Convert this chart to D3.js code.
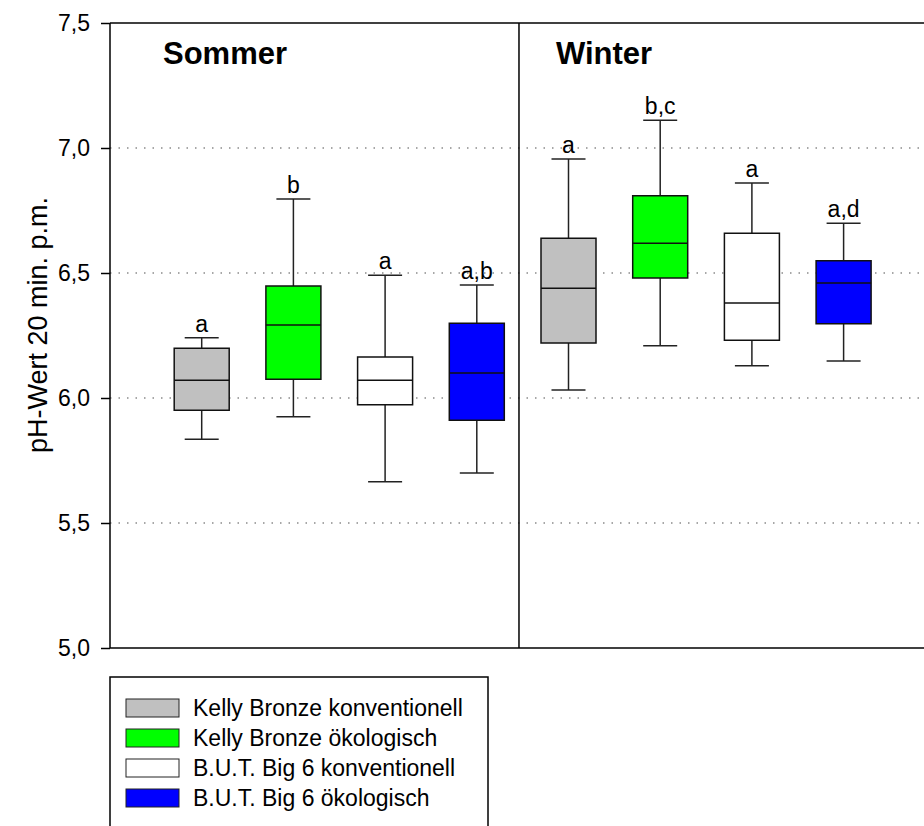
<!DOCTYPE html>
<html>
<head>
<meta charset="utf-8">
<script src="https://cdn.jsdelivr.net/npm/d3@7"></script>
<style>
  html, body { margin: 0; padding: 0; background: #fff; }
  svg { display: block; font-family: "Liberation Sans", Arial, sans-serif; }
</style>
</head>
<body>
<svg id="chart" width="924" height="826"></svg>
<script>
// Groups (legend entries) and seasons
const groups = ["Kelly Bronze konventionell", "Kelly Bronze ökologisch", "B.U.T. Big 6 konventionell", "B.U.T. Big 6 ökologisch"];
const groupColors = ["#c0c0c0", "#00ff00", "#ffffff", "#0000ff"];
const seasons = ["Sommer", "Winter"];

// Box statistics, Sommer (4 groups) then Winter (4 groups)
const whiskerLow  = [5.835, 5.925, 5.665, 5.70,  6.032, 6.209, 6.129, 6.148];
const q1          = [5.951, 6.075, 5.973, 5.911, 6.220, 6.480, 6.231, 6.297];
const median      = [6.071, 6.292, 6.071, 6.100, 6.439, 6.619, 6.380, 6.460];
const q3          = [6.199, 6.448, 6.164, 6.299, 6.639, 6.809, 6.659, 6.549];
const whiskerHigh = [6.241, 6.796, 6.491, 6.452, 6.956, 7.111, 6.860, 6.699];
const letters     = ["a", "b", "a", "a,b", "a", "b,c", "a", "a,d"];

// Y axis ticks
const yTicks = [5.0, 5.5, 6.0, 6.5, 7.0, 7.5];
const yTickLabels = ["5,0", "5,5", "6,0", "6,5", "7,0", "7,5"];
const gridValues = [5.5, 6.0, 6.5, 7.0];

const svg = d3.select("#chart");
const plotLeft = 110, plotTop = 23, plotBottom = 648, plotRight = 924;

const y = d3.scaleLinear().domain([5.0, 7.5]).range([plotBottom, plotTop]);
// positions 1..8 hold the boxes, divider sits between Sommer and Winter
const x = d3.scaleLinear().domain([0, 9]).range([plotLeft, plotLeft + 9 * 91.7]);
const dividerPos = 4.46;
const boxW = 55, capW = 34;

// dotted grid lines
svg.append("g").selectAll("line").data(gridValues).join("line")
  .attr("x1", plotLeft).attr("x2", plotRight)
  .attr("y1", d => y(d)).attr("y2", d => y(d))
  .attr("stroke", "#8a8a8a").attr("stroke-width", 1.3)
  .attr("stroke-dasharray", "1.5,7");

// frame: top and bottom edges, divider
const frame = svg.append("g").attr("stroke", "#000").attr("stroke-width", 1.5);
frame.append("line").attr("x1", plotLeft).attr("x2", plotRight).attr("y1", plotTop).attr("y2", plotTop);
frame.append("line").attr("x1", plotLeft).attr("x2", plotRight).attr("y1", plotBottom).attr("y2", plotBottom);
frame.append("line").attr("x1", x(dividerPos)).attr("x2", x(dividerPos)).attr("y1", plotTop).attr("y2", plotBottom);

// y axis
const yAxis = d3.axisLeft(y).tickValues(yTicks)
  .tickFormat((d, i) => yTickLabels[i]).tickSize(9).tickPadding(11);
const ya = svg.append("g").attr("transform", `translate(${plotLeft},0)`).call(yAxis);
ya.select(".domain").attr("stroke", "#000").attr("stroke-width", 1.5)
  .attr("d", `M0,${plotTop}V${plotBottom}`);
ya.selectAll(".tick line").attr("stroke", "#000").attr("stroke-width", 1.5);
ya.selectAll(".tick text").attr("font-size", 23).attr("fill", "#000")
  .attr("font-family", "'Liberation Sans', Arial, sans-serif");

// y axis title
svg.append("text")
  .attr("transform", `translate(38,325) rotate(-90)`)
  .attr("text-anchor", "middle").attr("dominant-baseline", "central")
  .attr("font-size", 27).text("pH-Wert 20 min. p.m.");

// season titles
svg.append("g").selectAll("text").data(seasons).join("text")
  .attr("x", (d, i) => i === 0 ? 163 : 556).attr("y", 64)
  .attr("font-size", 31).attr("font-weight", "bold").text(d => d);

// boxes
const idx = d3.range(whiskerLow.length);
const g = svg.append("g").selectAll("g").data(idx).join("g");

// whisker stems
g.append("line")
  .attr("x1", i => x(i + 1)).attr("x2", i => x(i + 1))
  .attr("y1", i => y(whiskerHigh[i])).attr("y2", i => y(q3[i]))
  .attr("stroke", "#222").attr("stroke-width", 1.5);
g.append("line")
  .attr("x1", i => x(i + 1)).attr("x2", i => x(i + 1))
  .attr("y1", i => y(q1[i])).attr("y2", i => y(whiskerLow[i]))
  .attr("stroke", "#222").attr("stroke-width", 1.5);
// whisker caps
g.append("line")
  .attr("x1", i => x(i + 1) - capW / 2).attr("x2", i => x(i + 1) + capW / 2)
  .attr("y1", i => y(whiskerHigh[i])).attr("y2", i => y(whiskerHigh[i]))
  .attr("stroke", "#222").attr("stroke-width", 1.5);
g.append("line")
  .attr("x1", i => x(i + 1) - capW / 2).attr("x2", i => x(i + 1) + capW / 2)
  .attr("y1", i => y(whiskerLow[i])).attr("y2", i => y(whiskerLow[i]))
  .attr("stroke", "#222").attr("stroke-width", 1.5);
// box
g.append("rect")
  .attr("x", i => x(i + 1) - boxW / 2).attr("width", boxW)
  .attr("y", i => y(q3[i])).attr("height", i => y(q1[i]) - y(q3[i]))
  .attr("fill", i => groupColors[i % 4])
  .attr("stroke", "#111").attr("stroke-width", 1.5);
// median
g.append("line")
  .attr("x1", i => x(i + 1) - boxW / 2).attr("x2", i => x(i + 1) + boxW / 2)
  .attr("y1", i => y(median[i])).attr("y2", i => y(median[i]))
  .attr("stroke", "#111").attr("stroke-width", 1.5);
// significance letters
g.append("text")
  .attr("x", i => x(i + 1)).attr("y", i => y(whiskerHigh[i]) - 6)
  .attr("text-anchor", "middle").attr("font-size", 23).text(i => letters[i]);

// legend
const lg = svg.append("g");
lg.append("rect").attr("x", 110).attr("y", 677).attr("width", 378).attr("height", 200)
  .attr("fill", "#fff").attr("stroke", "#000").attr("stroke-width", 1.5);
const rows = lg.selectAll("g").data(groups).join("g")
  .attr("transform", (d, i) => `translate(0,${699 + i * 30})`);
rows.append("rect").attr("x", 126).attr("y", 0).attr("width", 53).attr("height", 18)
  .attr("fill", (d, i) => groupColors[i]).attr("stroke", "#222").attr("stroke-width", 1);
rows.append("text").attr("x", 193).attr("y", 17).attr("font-size", 23).text(d => d);
</script>
</body>
</html>
